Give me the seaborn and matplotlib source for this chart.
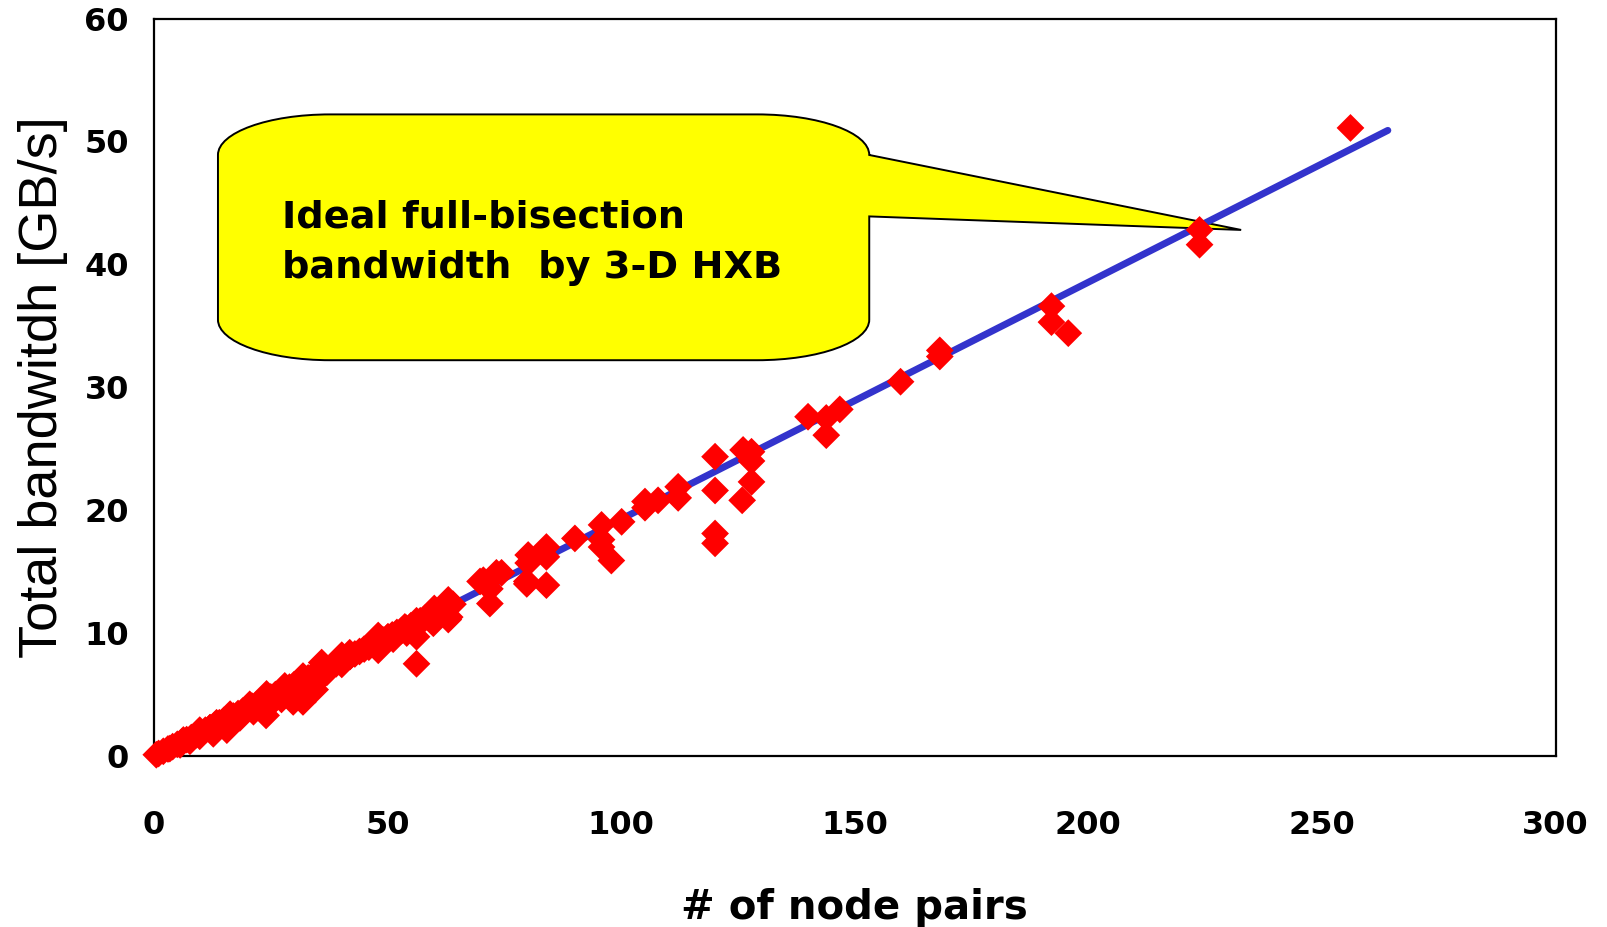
import numpy as np
import pandas as pd
import seaborn as sns
import matplotlib.pyplot as plt
from matplotlib.path import Path
from matplotlib.patches import PathPatch

# measured points (# of node pairs, total bandwidth GB/s)
pairs = [0.5, 1, 2, 3, 4, 5, 6, 7, 8, 9, 10, 11, 12, 13, 14, 15, 16, 17, 18, 19,
         20, 21, 22, 23, 24, 25, 26, 27, 28, 29, 30, 31, 32, 33, 34, 35, 36, 37, 38, 39,
         40, 41, 42, 43, 44, 45, 46, 47, 48, 49, 50, 51, 52, 53, 54, 55, 56, 57, 58, 59,
         60, 61, 62, 63, 64,
         6.3, 9.8, 13.4, 16.3, 20.5, 24.1, 28.0, 31.9, 35.9, 40.2, 41.9, 48.0, 50.1, 53.7,
         56.2, 60.0, 63.0,
         12.0, 15.9, 23.8, 29.8, 34.1, 36.2, 40.2, 48.0, 63.0,
         3.4, 5.6, 7.7, 9.8, 12.7, 13, 15.6, 15.6, 18.4, 21.3, 24, 24, 27.3, 29.8, 31.9, 31.9,
         34.5, 35.5, 37, 40.5, 41.9, 46.2, 48, 51.2, 54.1, 56.2, 56.2, 59.8, 62.6, 63.3, 63.3,
         69.8, 70.5, 71.9, 71.9, 73.3, 74.4, 79.8, 79.8, 80.1, 80.1, 84.0, 84.0, 84.0, 90.1,
         95.8, 95.8, 95.8, 97.9, 100.1, 105.1, 105.1, 107.9, 112.2, 112.2,
         120.1, 120.1, 120.1, 120.1, 126.1, 127.9, 127.9, 127.9, 125.9,
         140.0, 143.9, 146.8, 143.9, 159.8, 168.2, 168.2,
         192.1, 192.1, 195.7, 223.8, 223.8, 256.1]
bandwidth = [0.1, 0.2, 0.38, 0.57, 0.76, 0.95, 1.15, 1.33, 1.5, 1.72, 1.9, 2.1, 2.3, 2.5, 2.7, 2.9,
             3.05, 3.25, 3.45, 3.65, 3.85, 4.05, 4.2, 4.4, 4.6, 4.8, 5.0, 5.2, 5.4, 5.6, 5.8, 5.95,
             6.15, 6.35, 6.55, 6.75, 6.95, 7.1, 7.3, 7.5, 7.7, 7.9, 8.1, 8.3, 8.5, 8.7, 8.85, 9.05,
             9.25, 9.45, 9.65, 9.85, 10.05, 10.2, 10.4, 10.6, 10.8, 11.0, 11.2, 11.4, 11.6, 11.75,
             11.95, 12.15, 12.35,
             1.3, 2.1, 2.7, 3.4, 4.2, 5.05, 5.7, 6.5, 7.6, 8.2, 8.4, 9.8, 9.7, 10.5,
             11.0, 12.0, 12.7,
             2.3, 2.6, 3.8, 4.5, 6.0, 6.65, 7.45, 8.7, 11.1,
             0.6, 0.9, 1.2, 1.6, 1.8, 2.2, 2.1, 2.6, 3.1, 3.6, 3.9, 3.3, 4.6, 4.4, 4.4, 5.0,
             5.4, 6.3, 6.8, 7.9, 8.1, 9.0, 8.6, 9.5, 10.0, 9.7, 7.5, 10.8, 11.4, 11.3, 12.3,
             14.2, 14.3, 12.4, 13.6, 14.9, 14.9, 14.2, 14.0, 16.35, 15.7, 17.0, 16.2, 13.9, 17.7,
             18.8, 17.6, 17.0, 15.9, 19.05, 20.7, 20.2, 20.8, 21.9, 21.0,
             24.35, 21.6, 18.1, 17.3, 24.9, 24.75, 24.0, 22.3, 20.8,
             27.6, 27.5, 28.2, 26.1, 30.45, 33.0, 32.5,
             36.6, 35.3, 34.4, 42.8, 41.6, 51.1]

# ideal full-bisection bandwidth line
ideal_pairs = [0, 264.1]
ideal_bw = [0, 50.9]

df = pd.DataFrame({"pairs": pairs, "bw": bandwidth})
ideal = pd.DataFrame({"pairs": ideal_pairs, "bw": ideal_bw})

sns.set_style("white")
plt.rcParams['font.family'] = ['DejaVu Sans']
plt.rcParams['text.color'] = 'black'
plt.rcParams['axes.labelcolor'] = 'black'
plt.rcParams['xtick.color'] = 'black'
plt.rcParams['ytick.color'] = 'black'

fig = plt.figure(figsize=(16.07, 9.27), dpi=100)
ax = fig.add_axes([0.0958, 0.1845, 0.8722, 0.7955])

# callout balloon
L, R, T, B = 13.7, 153.1, 52.2, 32.2
rx, ry, k = 24, 3.3, 0.5523
verts = [(L + rx, T), (R - rx, T),
         (R - rx + k * rx, T), (R, T - ry + k * ry), (R, T - ry),
         (R, 48.9), (232.7, 42.8), (R, 43.9), (R, B + ry),
         (R, B + ry - k * ry), (R - rx + k * rx, B), (R - rx, B),
         (L + rx, B),
         (L + rx - k * rx, B), (L, B + ry - k * ry), (L, B + ry),
         (L, T - ry),
         (L, T - ry + k * ry), (L + rx - k * rx, T), (L + rx, T),
         (L + rx, T)]
codes = [Path.MOVETO, Path.LINETO,
         Path.CURVE4, Path.CURVE4, Path.CURVE4,
         Path.LINETO, Path.LINETO, Path.LINETO, Path.LINETO,
         Path.CURVE4, Path.CURVE4, Path.CURVE4,
         Path.LINETO,
         Path.CURVE4, Path.CURVE4, Path.CURVE4,
         Path.LINETO,
         Path.CURVE4, Path.CURVE4, Path.CURVE4,
         Path.CLOSEPOLY]
ax.add_patch(PathPatch(Path(verts, codes), facecolor="#FFFF00", edgecolor="black",
                       linewidth=1.4, zorder=1, clip_on=False))
ax.text(27.5, 43.0, "Ideal full-bisection", fontsize=27.5, fontweight="bold",
        va="baseline", ha="left", zorder=2, color="black")
ax.text(27.5, 38.9, "bandwidth  by 3-D HXB", fontsize=27.5, fontweight="bold",
        va="baseline", ha="left", zorder=2, color="black")

sns.lineplot(data=ideal, x="pairs", y="bw", color="#3333CC", linewidth=5, ax=ax, zorder=3)
sns.scatterplot(data=df, x="pairs", y="bw", marker="D", s=200, color="#FF0000",
                edgecolor="none", linewidth=0, ax=ax, zorder=4, clip_on=False)

ax.set_xlim(0, 300)
ax.set_ylim(0, 60)
ax.set_xticks(range(0, 301, 50))
ax.set_yticks(range(0, 61, 10))
ax.tick_params(axis="both", direction="in", length=9, width=1.3, labelsize=23, color="black",
               labelcolor="black")
ax.tick_params(axis="x", pad=39)
ax.tick_params(axis="y", pad=18)
for lab in ax.get_xticklabels() + ax.get_yticklabels():
    lab.set_fontweight("bold")
for sp in ax.spines.values():
    sp.set_visible(True)
    sp.set_color("black")
    sp.set_linewidth(1.6)

ax.set_xlabel("# of node pairs", fontsize=29, fontweight="bold", labelpad=34, color="black")
ax.set_ylabel("Total bandwitdh [GB/s]", fontsize=39, family="Liberation Sans", labelpad=12,
              color="black")

plt.savefig("out.png", dpi=100)
